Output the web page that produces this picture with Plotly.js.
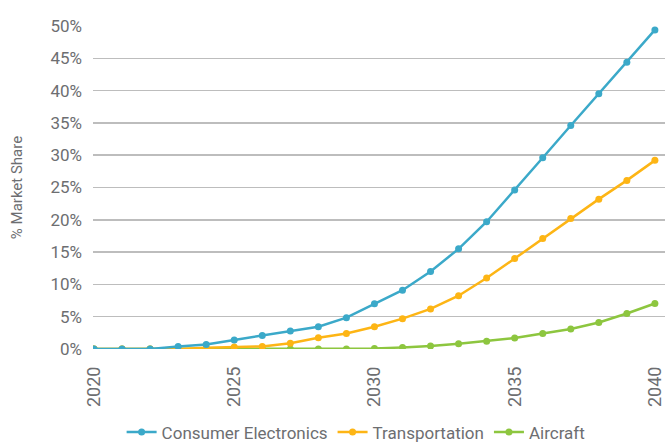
<!DOCTYPE html>
<html>
<head>
<meta charset="utf-8">
<script src="https://cdn.plot.ly/plotly-3.0.1.min.js"></script>
<style>html,body{margin:0;padding:0;background:#fff}#chart{width:670px;height:442px}</style>
</head>
<body>
<div id="chart"></div>
<script>
const years = [2020,2021,2022,2023,2024,2025,2026,2027,2028,2029,2030,2031,2032,2033,2034,2035,2036,2037,2038,2039,2040];
const consumerElectronics = [0,0,0,0.4,0.7,1.4,2.1,2.8,3.45,4.85,7.0,9.1,12.0,15.5,19.7,24.6,29.6,34.6,39.5,44.4,49.4];
const transportation = [0,0,0,0,0.2,0.3,0.4,0.9,1.75,2.4,3.45,4.7,6.2,8.25,11.0,14.0,17.1,20.2,23.2,26.1,29.2];
const aircraft = [0,0,0,0,0,0,0,0,0,0,0.08,0.25,0.45,0.8,1.2,1.7,2.4,3.1,4.1,5.5,7.05];
const yTickVals = [0,5,10,15,20,25,30,35,40,45,50];
const yTickText = yTickVals.map(v => v + '%');

const colors = {ce:'#3BA9C9', tr:'#FDB515', ac:'#8DC63F'};
function tr(name, y, c){
  return {x: years, y: y, name: name, type:'scatter', mode:'lines+markers',
    line:{color:c, width:2.5}, marker:{color:c, size:7}};
}
const data = [
  tr('Aircraft', aircraft, colors.ac),
  tr('Transportation', transportation, colors.tr),
  tr('Consumer Electronics', consumerElectronics, colors.ce)
];
const font = 'Roboto, "DejaVu Sans", sans-serif';
const layout = {
  width:670, height:442,
  margin:{l:93, r:5, t:26, b:93, autoexpand:false},
  paper_bgcolor:'#fff', plot_bgcolor:'#fff',
  font:{family:font, color:'#6d6e71'},
  showlegend:true,
  legend:{orientation:'h', x:0.46, xanchor:'center', y:-0.203, yanchor:'top',
    traceorder:'reversed', font:{size:17, color:'#6d6e71'}, itemwidth:30},
  xaxis:{range:[2019.964, 2040.36], tickvals:[2020,2025,2030,2035,2040], tickangle:-90, automargin:false,
    showgrid:false, zeroline:false, showline:false, ticks:'', tickfont:{size:18, color:'#6d6e71'}, ticklabelstandoff:13},
  yaxis:{range:[0,50], tickvals:yTickVals, ticktext:yTickText, showgrid:true, gridcolor:'#bdbdbd', gridwidth:1.5,
    zeroline:false, showline:false, ticks:'', automargin:false, tickfont:{size:17, color:'#6d6e71'}, ticklabelstandoff:10,
    title:{text:'% Market Share', font:{size:15, color:'#6d6e71'}, standoff:24}},
};
Plotly.newPlot('chart', data, layout, {displayModeBar:false, staticPlot:true});
</script>
</body>
</html>
